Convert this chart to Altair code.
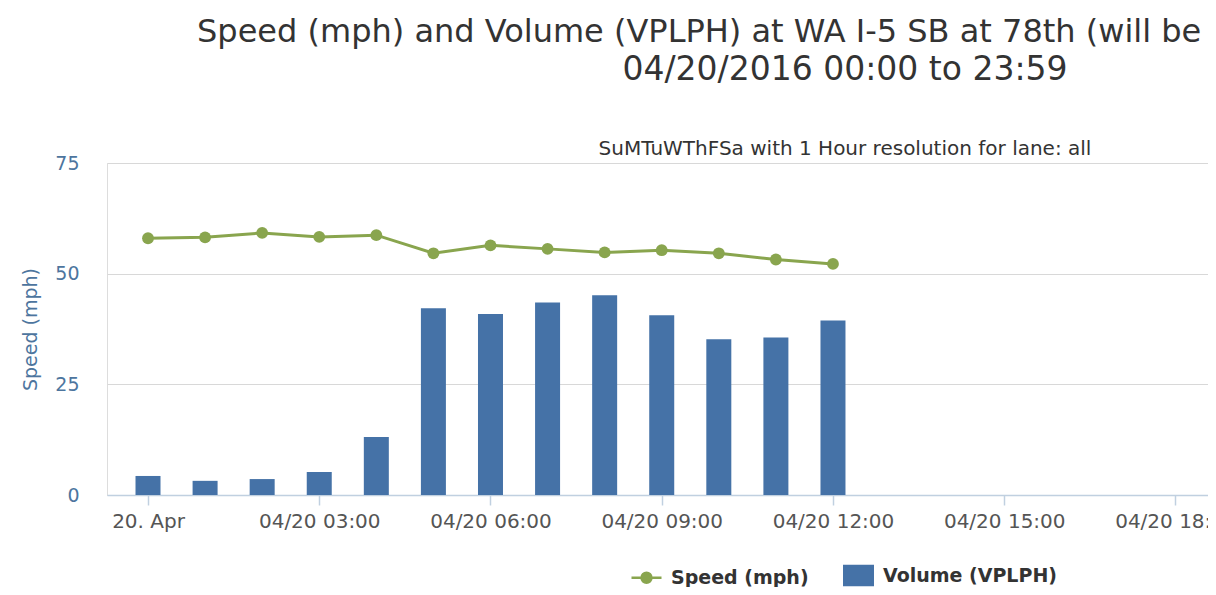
import altair as alt
import pandas as pd

# ---- data ----
times = [
    "2016-04-20T00:00:00Z", "2016-04-20T01:00:00Z", "2016-04-20T02:00:00Z",
    "2016-04-20T03:00:00Z", "2016-04-20T04:00:00Z", "2016-04-20T05:00:00Z",
    "2016-04-20T06:00:00Z", "2016-04-20T07:00:00Z", "2016-04-20T08:00:00Z",
    "2016-04-20T09:00:00Z", "2016-04-20T10:00:00Z", "2016-04-20T11:00:00Z",
    "2016-04-20T12:00:00Z",
]
speed = [58.0, 58.2, 59.2, 58.3, 58.7, 54.6, 56.4, 55.6, 54.8, 55.3, 54.6, 53.2, 52.2]
volume = [4.3, 3.2, 3.6, 5.2, 13.1, 42.2, 40.9, 43.5, 45.1, 40.6, 35.2, 35.6, 39.4]
series_names = ["Speed (mph)", "Volume (VPLPH)"]
series_colors = ["#89A54E", "#4572A7"]
y_ticks = [0, 25, 50, 75]
x_tick_hours = [0, 3, 6, 9, 12, 15, 18]

title_line1 = "Speed (mph) and Volume (VPLPH) at WA I-5 SB at 78th (will be r"
title_line2 = "04/20/2016 00:00 to 23:59"
subtitle = "SuMTuWThFSa with 1 Hour resolution for lane: all"

FONT = "DejaVu Sans"

df_speed = pd.DataFrame({"time": times, "value": speed, "series": series_names[0]})
df_vol = pd.DataFrame({"time": times, "value": volume, "series": series_names[1]})

x_domain = [
    alt.DateTime(year=2016, month=4, date=19, hours=23, minutes=16, seconds=54, utc=True),
    alt.DateTime(year=2016, month=4, date=20, hours=18, minutes=34, seconds=12, utc=True),
]
x_values = [alt.DateTime(year=2016, month=4, date=20, hours=h, utc=True) for h in x_tick_hours]

x_enc = alt.X(
    "time:T",
    scale=alt.Scale(type="utc", domain=x_domain, padding=0, nice=False),
    axis=alt.Axis(
        title=None,
        values=x_values,
        labelExpr="utcFormat(datum.value, '%H') == '00' ? '20. Apr' : utcFormat(datum.value, '%m/%d %H:%M')",
        grid=False,
        domainColor="#C0D0E0",
        domainWidth=1.5,
        tickColor="#C0D0E0",
        tickSize=10,
        tickWidth=1.5,
        labelFont=FONT,
        labelFontSize=20,
        labelColor="#555555",
        labelPadding=6,
        labelFlush=False,
        labelOverlap=False,
    ),
)

y_enc = alt.Y(
    "value:Q",
    scale=alt.Scale(domain=[0, 75], nice=False),
    axis=alt.Axis(
        title="Speed (mph)",
        values=y_ticks,
        grid=True,
        gridColor="#D8D8D8",
        gridWidth=1,
        domain=False,
        ticks=False,
        labelFont=FONT,
        labelFontSize=19,
        labelColor="#4D759E",
        labelPadding=28,
        titleFont=FONT,
        titleFontSize=19,
        titleFontWeight="normal",
        titleColor="#4D759E",
        titleX=-77,
        titleY=166,
        titleAngle=270,
        titleAlign="center",
        titleBaseline="middle",
    ),
)

color_enc = alt.Color(
    "series:N",
    scale=alt.Scale(domain=series_names, range=series_colors),
    legend=alt.Legend(
        title=None,
        orient="none",
        legendX=523,
        legendY=396,
        direction="horizontal",
        symbolType={
            "expr": "datum.value == 'Speed (mph)' ? 'M-1,0H1M-0.33,0A0.33,0.33 0 1,1 0.33,0A0.33,0.33 0 1,1 -0.33,0Z' : 'M-0.95,-0.63H0.95V0.63H-0.95Z'"
        },
        symbolSize=900,
        symbolStrokeWidth=2.5,
        labelFont=FONT,
        labelFontSize=19,
        labelFontWeight="bold",
        labelColor="#333333",
        labelOffset=8,
        labelLimit=400,
        columnPadding=30,
        padding=0,
    ),
)

bars = alt.Chart(df_vol).mark_bar(size=25).encode(x=x_enc, y=y_enc, color=color_enc)

line = alt.Chart(df_speed).mark_line(
    strokeWidth=3,
    point=alt.OverlayMarkDef(size=140, filled=True, opacity=1),
).encode(x=x_enc, y=y_enc, color=color_enc)

header_df = pd.DataFrame({"t": [title_line2, subtitle], "kind": ["date", "sub"]})

date_line = alt.Chart(header_df).transform_filter("datum.kind == 'date'").mark_text(
    align="center", baseline="middle", font=FONT, fontSize=33, color="#333333"
).encode(x=alt.value(738), y=alt.value(-93), text="t:N")

sub_line = alt.Chart(header_df).transform_filter("datum.kind == 'sub'").mark_text(
    align="center", baseline="middle", font=FONT, fontSize=20, color="#333333"
).encode(x=alt.value(738), y=alt.value(-14), text="t:N")

chart = alt.layer(bars, line, date_line, sub_line).properties(
    width=1101,
    height=332,
    autosize=alt.AutoSizeParams(type="none"),
    padding={"left": 99, "top": 155, "right": 0, "bottom": 92},
    title=alt.TitleParams(
        text=title_line1,
        anchor="start",
        align="left",
        dx=90,
        frame="group",
        font=FONT,
        fontSize=32,
        fontWeight="normal",
        color="#333333",
        offset=5,
    ),
).configure_view(stroke=None).configure(background="white")

chart.save("out.html", embed_options={"renderer": "svg", "actions": False})
